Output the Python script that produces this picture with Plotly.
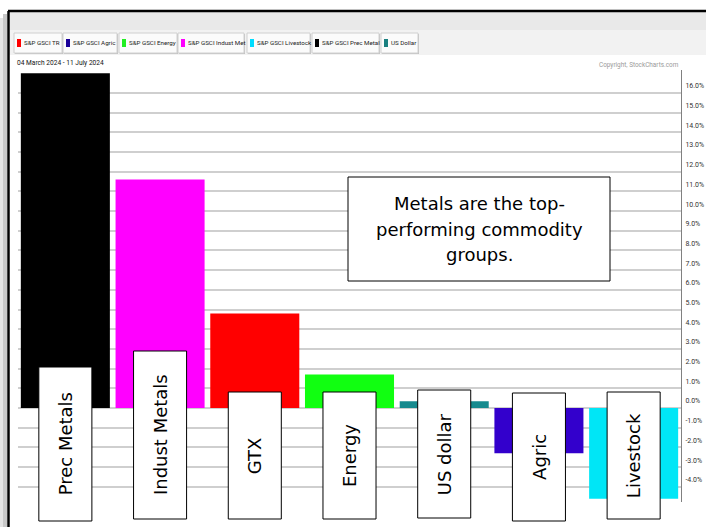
import plotly.graph_objects as go

# ---------------- data ----------------
categories = ["Prec Metals", "Indust Metals", "GTX", "Energy", "US dollar", "Agric", "Livestock"]
returns_pct = [17.0, 11.6, 4.8, 1.7, 0.35, -2.3, -4.6]
bar_colors = ["#000000", "#ff00ff", "#ff0000", "#11ff11", "#178a8e", "#3300cc", "#00e6f6"]

tick_values = list(range(-4, 17))
tick_labels = [f"{v:.1f}%" for v in tick_values]

legend_names = ["S&P GSCI TR", "S&P GSCI Agric", "S&P GSCI Energy", "S&P GSCI Indust Met",
                "S&P GSCI Livestock", "S&P GSCI Prec Metal", "US Dollar"]
legend_colors = ["#ff0000", "#1a0099", "#22ee22", "#ff00ff", "#00ddff", "#000000", "#1a8080"]

date_range = "04 March 2024 - 11 July 2024"
copyright_text = "Copyright, StockCharts.com"
note_lines = ["Metals are the top-", "performing commodity", "groups."]

# ---------------- layout geometry (window pixels) ----------------
W, H = 706, 527
L, R, T, B = 18, 25, 70, 25
PW, PH = W - L - R, H - T - B
Y_RANGE = [-4.77, 17.16]


def px(x):
    return (x - L) / PW


def py(y):
    return (H - B - y) / PH


small = "Roboto, Liberation Sans, sans-serif"
label_font = "DejaVu Sans, Verdana, sans-serif"

fig = go.Figure()
fig.add_trace(go.Bar(
    x=list(range(len(categories))),
    y=returns_pct,
    marker=dict(color=bar_colors, line=dict(width=0)),
    hovertext=categories,
    showlegend=False,
))

shapes = []
annotations = []

# window frame / header
shapes.append(dict(type="rect", xref="paper", yref="paper", x0=px(0), x1=px(3), y0=py(527), y1=py(18),
                   fillcolor="#e4e4e4", line=dict(width=0), layer="below"))
shapes.append(dict(type="rect", xref="paper", yref="paper", x0=px(3), x1=px(7), y0=py(527), y1=py(14),
                   fillcolor="#c8c8c8", line=dict(width=0), layer="below"))
shapes.append(dict(type="rect", xref="paper", yref="paper", x0=px(9), x1=px(706), y0=py(30), y1=py(12),
                   fillcolor="#e9e9e9", line=dict(width=0), layer="below"))
shapes.append(dict(type="rect", xref="paper", yref="paper", x0=px(9), x1=px(706), y0=py(55), y1=py(30),
                   fillcolor="#f2f2f2", line=dict(width=0), layer="below"))
shapes.append(dict(type="line", xref="paper", yref="paper", x0=px(8), x1=px(706), y0=py(11), y1=py(11),
                   line=dict(color="#000000", width=2.5)))
shapes.append(dict(type="line", xref="paper", yref="paper", x0=px(8.5), x1=px(8.5), y0=py(11), y1=py(527),
                   line=dict(color="#000000", width=2.5)))

# legend buttons
legend_x = [(14, 62), (63, 117), (119, 177), (178, 244), (247, 310), (312, 379), (381, 418)]
for (x0, x1), name, col in zip(legend_x, legend_names, legend_colors):
    shapes.append(dict(type="rect", xref="paper", yref="paper", x0=px(x0 + 1), x1=px(x1 + 1),
                       y0=py(54), y1=py(34), fillcolor="#c4c4c4", line=dict(width=0)))
    shapes.append(dict(type="rect", xref="paper", yref="paper", x0=px(x0), x1=px(x1),
                       y0=py(53), y1=py(33), fillcolor="#fbfbfb", line=dict(color="#d0d0d0", width=1)))
    shapes.append(dict(type="rect", xref="paper", yref="paper", x0=px(x0 + 3), x1=px(x0 + 7),
                       y0=py(47), y1=py(39), fillcolor=col, line=dict(width=0)))
    annotations.append(dict(text=name, xref="paper", yref="paper", x=px(x0 + 8), y=py(43),
                            xanchor="left", yanchor="middle", showarrow=False,
                            font=dict(family=small, size=6.2, color="#222222")))

annotations.append(dict(text=date_range, xref="paper", yref="paper", x=px(15), y=py(63),
                        xanchor="left", yanchor="middle", showarrow=False,
                        font=dict(family=small, size=6.6, color="#111111")))
annotations.append(dict(text=copyright_text, xref="paper", yref="paper", x=px(681), y=py(65),
                        xanchor="right", yanchor="middle", showarrow=False,
                        font=dict(family=small, size=6.4, color="#9a9a9a")))

# note box
shapes.append(dict(type="rect", xref="paper", yref="paper", x0=px(348), x1=px(610),
                   y0=py(281), y1=py(177), fillcolor="#ffffff", line=dict(color="#000000", width=1)))
for line_text, yy in zip(note_lines, [203, 229, 255]):
    annotations.append(dict(text=line_text, xref="paper", yref="paper", x=px(479), y=py(yy),
                            xanchor="center", yanchor="middle", showarrow=False,
                            font=dict(family=label_font, size=18, color="#000000")))

# category label boxes
box_tops = [367, 351, 392, 392, 390, 393, 392]
box_bottoms = [521, 519, 519, 519, 518, 521, 519]
n = len(categories)
half_w = 0.28 / n
for i, (name, top, bot) in enumerate(zip(categories, box_tops, box_bottoms)):
    cx = (i + 0.5) / n
    shapes.append(dict(type="rect", xref="paper", yref="paper", x0=cx - half_w, x1=cx + half_w,
                       y0=py(bot), y1=py(top), fillcolor="#ffffff",
                       line=dict(color="#000000", width=1)))
    annotations.append(dict(text=name, xref="paper", yref="paper", x=cx, y=py((top + bot) / 2),
                            xanchor="center", yanchor="middle", textangle=-90, showarrow=False,
                            font=dict(family=label_font, size=18, color="#000000")))

fig.update_layout(
    width=W, height=H,
    margin=dict(l=L, r=R, t=T, b=B, autoexpand=False),
    paper_bgcolor="#ffffff", plot_bgcolor="#ffffff",
    bargap=0.06,
    showlegend=False,
    shapes=shapes,
    annotations=annotations,
    xaxis=dict(range=[-0.5, n - 0.5], showticklabels=False, showgrid=False, zeroline=False,
               showline=False, ticks="", fixedrange=True),
    yaxis=dict(range=Y_RANGE, side="right", tickvals=tick_values, ticktext=tick_labels,
               showgrid=True, gridcolor="#cfcfcf", gridwidth=2, zeroline=False,
               showline=True, linecolor="#808080", linewidth=1, ticks="",
               ticklabelstandoff=2, ticklabelshift=-7, automargin=False,
               tickfont=dict(family=small, size=7, color="#333333"), fixedrange=True),
)

fig.write_html(
    "out.html",
    config={"displayModeBar": False},
    post_script="document.body.style.margin='0';document.body.style.overflow='hidden';",
)
